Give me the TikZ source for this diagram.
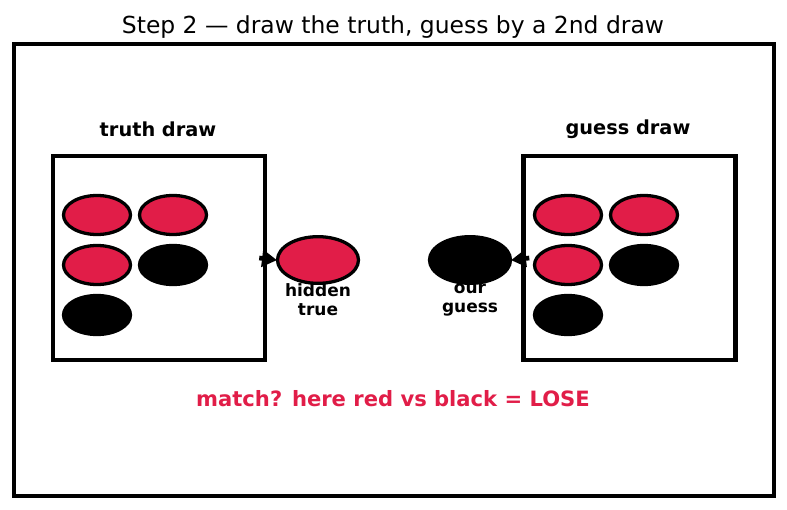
\documentclass[tikz,border=0pt]{standalone}
\usepackage{fontspec}
\setmainfont{DejaVu Sans}
\usepackage{xcolor}
\usepackage{tikz}
\usetikzlibrary{shapes.geometric,arrows.meta,positioning}

\definecolor{ballred}{RGB}{225,29,72}

\begin{document}
\begin{tikzpicture}[
  x=0.03cm, y=-0.03cm,
  frame/.style={rectangle, draw, line width=3.8pt, inner sep=0},
  urn/.style={rectangle, draw, line width=3.8pt, minimum width=6.36cm, minimum height=6.12cm, inner sep=0},
  ball/.style={ellipse, draw, line width=2.8pt, minimum width=2.01cm, minimum height=1.17cm, inner sep=0},
  redball/.style={ball, fill=ballred},
  blackball/.style={ball, fill=black},
  pick/.style={ellipse, draw, line width=2.8pt, minimum width=2.43cm, minimum height=1.4cm, inner sep=0},
  heading/.style={font=\fontsize{16.5}{19}\selectfont\bfseries},
  tag/.style={font=\fontsize{14.5}{16}\selectfont\bfseries, align=center},
  arrow/.style={-{Triangle[length=0.45cm,width=0.5cm]}, line width=4pt, shorten >=-1pt}
]
  \useasboundingbox (0,0) rectangle (787,510);

  \node[font=\fontsize{20}{24}\selectfont] (title) at (393,27) {Step 2 — draw the truth, guess by a 2nd draw};
  \node[frame, minimum width=22.8cm, minimum height=13.56cm] (frame) at (394,270) {};

  % urns
  \node[urn] (truthbox) at (159,258) {};
  \node[urn] (guessbox) at (629.5,258) {};
  \node[heading] (truthlbl) at (158,129) {truth draw};
  \node[heading] (guesslbl) at (628,129) {guess draw};

  % balls in the truth urn
  \node[redball] (t1) at (97,215) {};
  \node[redball] (t2) at (173,215) {};
  \node[redball] (t3) at (97,265) {};
  \node[blackball] (t4) at (173,265) {};
  \node[blackball] (t5) at (97,315) {};

  % balls in the guess urn
  \node[redball] (g1) at (568,215) {};
  \node[redball] (g2) at (644,215) {};
  \node[redball] (g3) at (568,265) {};
  \node[blackball] (g4) at (644,265) {};
  \node[blackball] (g5) at (568,315) {};

  % the two draws
  \node[pick, fill=ballred] (hidden) at (318,260) {};
  \node[pick, fill=black] (ours) at (470,260) {};
  \node[tag] (hiddenlbl) at (318,300) {hidden\\true};
  \node[tag] (ourslbl) at (470,300) {our\\guess};

  \draw[arrow] ([xshift=-0.24cm]truthbox.east) -- (hidden.west);
  \draw[arrow] ([xshift=0.24cm]guessbox.west) -- (ours.east);

  \node[font=\fontsize{18}{21}\selectfont\bfseries, text=ballred] (verdict) at (393,399) {match? here red vs black = LOSE};
\end{tikzpicture}
\end{document}
